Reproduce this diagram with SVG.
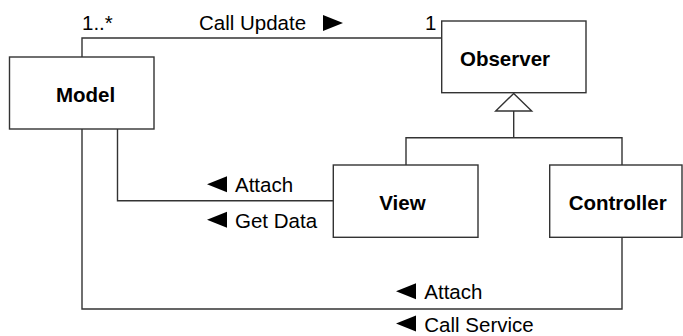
<svg xmlns="http://www.w3.org/2000/svg" width="683" height="336" viewBox="0 0 683 336">
  <style>
    .box { fill: #ffffff; stroke: #333333; stroke-width: 1.4; }
    .wire { fill: none; stroke: #333333; stroke-width: 1.4; }
    .head { fill: #ffffff; stroke: #333333; stroke-width: 1.4; }
    .dir { fill: #000000; }
    .name { font-family: "Liberation Sans", Arial, sans-serif; font-size: 20.5px; font-weight: bold; fill: #000000; }
    .lbl { font-family: "Liberation Sans", Arial, sans-serif; font-size: 20.5px; fill: #000000; }
  </style>

  <!-- connectors -->
  <g id="connectors">
    <!-- Model to Observer association -->
    <polyline class="wire" points="82,57 82,38 441.7,38"/>
    <!-- Model to View -->
    <polyline class="wire" points="117.5,129 117.5,200.7 333.3,200.7"/>
    <!-- Model to Controller -->
    <polyline class="wire" points="82,129 82,309 622,309 622,237.3"/>
    <!-- generalization tree -->
    <polyline class="wire" points="406,165 406,137.7 622,137.7 622,165"/>
    <line class="wire" x1="513.7" y1="137.7" x2="513.7" y2="111"/>
    <polygon class="head" points="513.7,93.5 495.7,111 531.7,111"/>

    <!-- multiplicities -->
    <text class="lbl" x="82" y="29.5">1..*</text>
    <text class="lbl" x="425" y="29.5">1</text>

    <!-- messages -->
    <text class="lbl" x="199" y="30">Call Update</text>
    <polygon class="dir" points="323,15 343,23 323,31"/>

    <text class="lbl" x="235" y="192.3">Attach</text>
    <polygon class="dir" points="227,176.3 207,184.3 227,192.3"/>
    <text class="lbl" x="235" y="227.7">Get Data</text>
    <polygon class="dir" points="227,211.7 207,219.7 227,227.7"/>

    <text class="lbl" x="424.3" y="299.3">Attach</text>
    <polygon class="dir" points="416,283.3 396,291.3 416,299.3"/>
    <text class="lbl" x="424.3" y="331.5">Call Service</text>
    <polygon class="dir" points="416,315.5 396,323.5 416,331.5"/>
  </g>

  <g id="model">
    <rect class="box" x="9.5" y="57" width="144.5" height="72"/>
    <text class="name" x="56" y="102">Model</text>
  </g>

  <g id="observer">
    <rect class="box" x="441.7" y="21" width="144.3" height="71.7"/>
    <text class="name" x="460" y="65.7">Observer</text>
  </g>

  <g id="view">
    <rect class="box" x="333.3" y="165" width="144.7" height="72.3"/>
    <text class="name" x="379.3" y="210">View</text>
  </g>

  <g id="controller">
    <rect class="box" x="549.7" y="165" width="132.3" height="72.3"/>
    <text class="name" x="568.7" y="210">Controller</text>
  </g>
</svg>
